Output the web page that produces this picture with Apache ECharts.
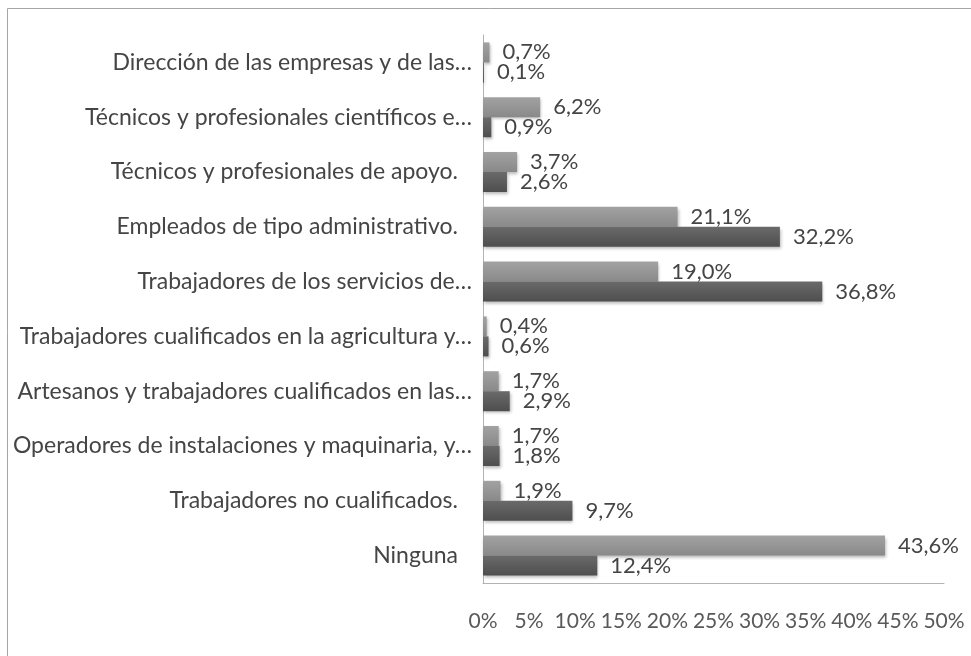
<!DOCTYPE html>
<html>
<head>
<meta charset="utf-8">
<script src="https://cdn.jsdelivr.net/npm/echarts@6/dist/echarts.min.js"></script>
<style>
  html, body { margin: 0; padding: 0; background: #ffffff; }
  #chart { width: 971px; height: 656px; }
</style>
</head>
<body>
<div id="chart"></div>
<script>
// Ocupaciones (categorías mostradas de arriba abajo)
const categories = [
  'Dirección de las empresas y de las…',
  'Técnicos y profesionales científicos e…',
  'Técnicos y profesionales de apoyo.',
  'Empleados de tipo administrativo.',
  'Trabajadores de los servicios de…',
  'Trabajadores cualificados en la agricultura y…',
  'Artesanos y trabajadores cualificados en las…',
  'Operadores de instalaciones y maquinaria, y…',
  'Trabajadores no cualificados.',
  'Ninguna'
];
// Porcentajes de cada serie
const serieClara = [0.7, 6.2, 3.7, 21.1, 19.0, 0.4, 1.7, 1.7, 1.9, 43.6];
const serieOscura = [0.1, 0.9, 2.6, 32.2, 36.8, 0.6, 2.9, 1.8, 9.7, 12.4];
// Marcas del eje de valores
const axisMin = 0;
const axisMax = 50;
const axisStep = 5;

const FONT = 'Lato';
const CAT_SIZE = 23;
const VAL_SIZE = 22;
const AXIS_SIZE = 21;
const fmtPct = v => v.toFixed(1).replace('.', ',') + '%';

function gradient(top, bottom) {
  return new echarts.graphic.LinearGradient(0, 0, 0, 1, [
    { offset: 0, color: top },
    { offset: 1, color: bottom }
  ]);
}

function barSeries(name, data, topColor, bottomColor) {
  return {
    name: name,
    type: 'bar',
    data: data,
    barWidth: 20,
    barGap: '0%',
    itemStyle: {
      color: gradient(topColor, bottomColor),
      shadowColor: 'rgba(0,0,0,0.28)',
      shadowBlur: 3,
      shadowOffsetX: 1,
      shadowOffsetY: 2
    },
    label: {
      show: true,
      position: 'right',
      distance: 13,
      fontFamily: FONT,
      fontSize: VAL_SIZE,
      color: '#454545',
      formatter: p => fmtPct(p.value)
    }
  };
}

const chart = echarts.init(document.getElementById('chart'), null, { renderer: 'canvas' });
chart.setOption({
  backgroundColor: '#ffffff',
  animation: false,
  grid: { left: 483, right: 27, top: 35, bottom: 73, containLabel: false },
  graphic: [{
    type: 'rect',
    shape: { x: 7.5, y: 8.5, width: 1000, height: 700 },
    style: { fill: 'none', stroke: '#a6a6a6', lineWidth: 1 },
    silent: true,
    z: -1
  }],
  xAxis: {
    type: 'value',
    min: axisMin,
    max: axisMax,
    interval: axisStep,
    axisLine: { show: true, lineStyle: { color: '#b3b3b3', width: 1 } },
    axisTick: { show: false },
    splitLine: { show: false },
    axisLabel: {
      margin: 28,
      fontFamily: FONT,
      fontSize: AXIS_SIZE,
      color: '#595959',
      formatter: '{value}%'
    }
  },
  yAxis: {
    type: 'category',
    data: categories,
    inverse: true,
    axisLine: { show: true, lineStyle: { color: '#b3b3b3', width: 1 } },
    axisTick: { show: false },
    axisLabel: {
      margin: 11,
      fontFamily: FONT,
      fontSize: CAT_SIZE,
      color: '#454545',
      formatter: v => v.endsWith('…') ? '{e|' + v + '}' : '{f|' + v + '}',
      rich: {
        e: { fontFamily: FONT, fontSize: CAT_SIZE, color: '#454545' },
        f: { fontFamily: FONT, fontSize: CAT_SIZE, color: '#454545', padding: [0, 14, 0, 0] }
      }
    }
  },
  series: [
    barSeries('Serie 1', serieClara, '#a2a2a2', '#898989'),
    barSeries('Serie 2', serieOscura, '#6a6a6a', '#4e4e4e')
  ]
});
</script>
</body>
</html>
